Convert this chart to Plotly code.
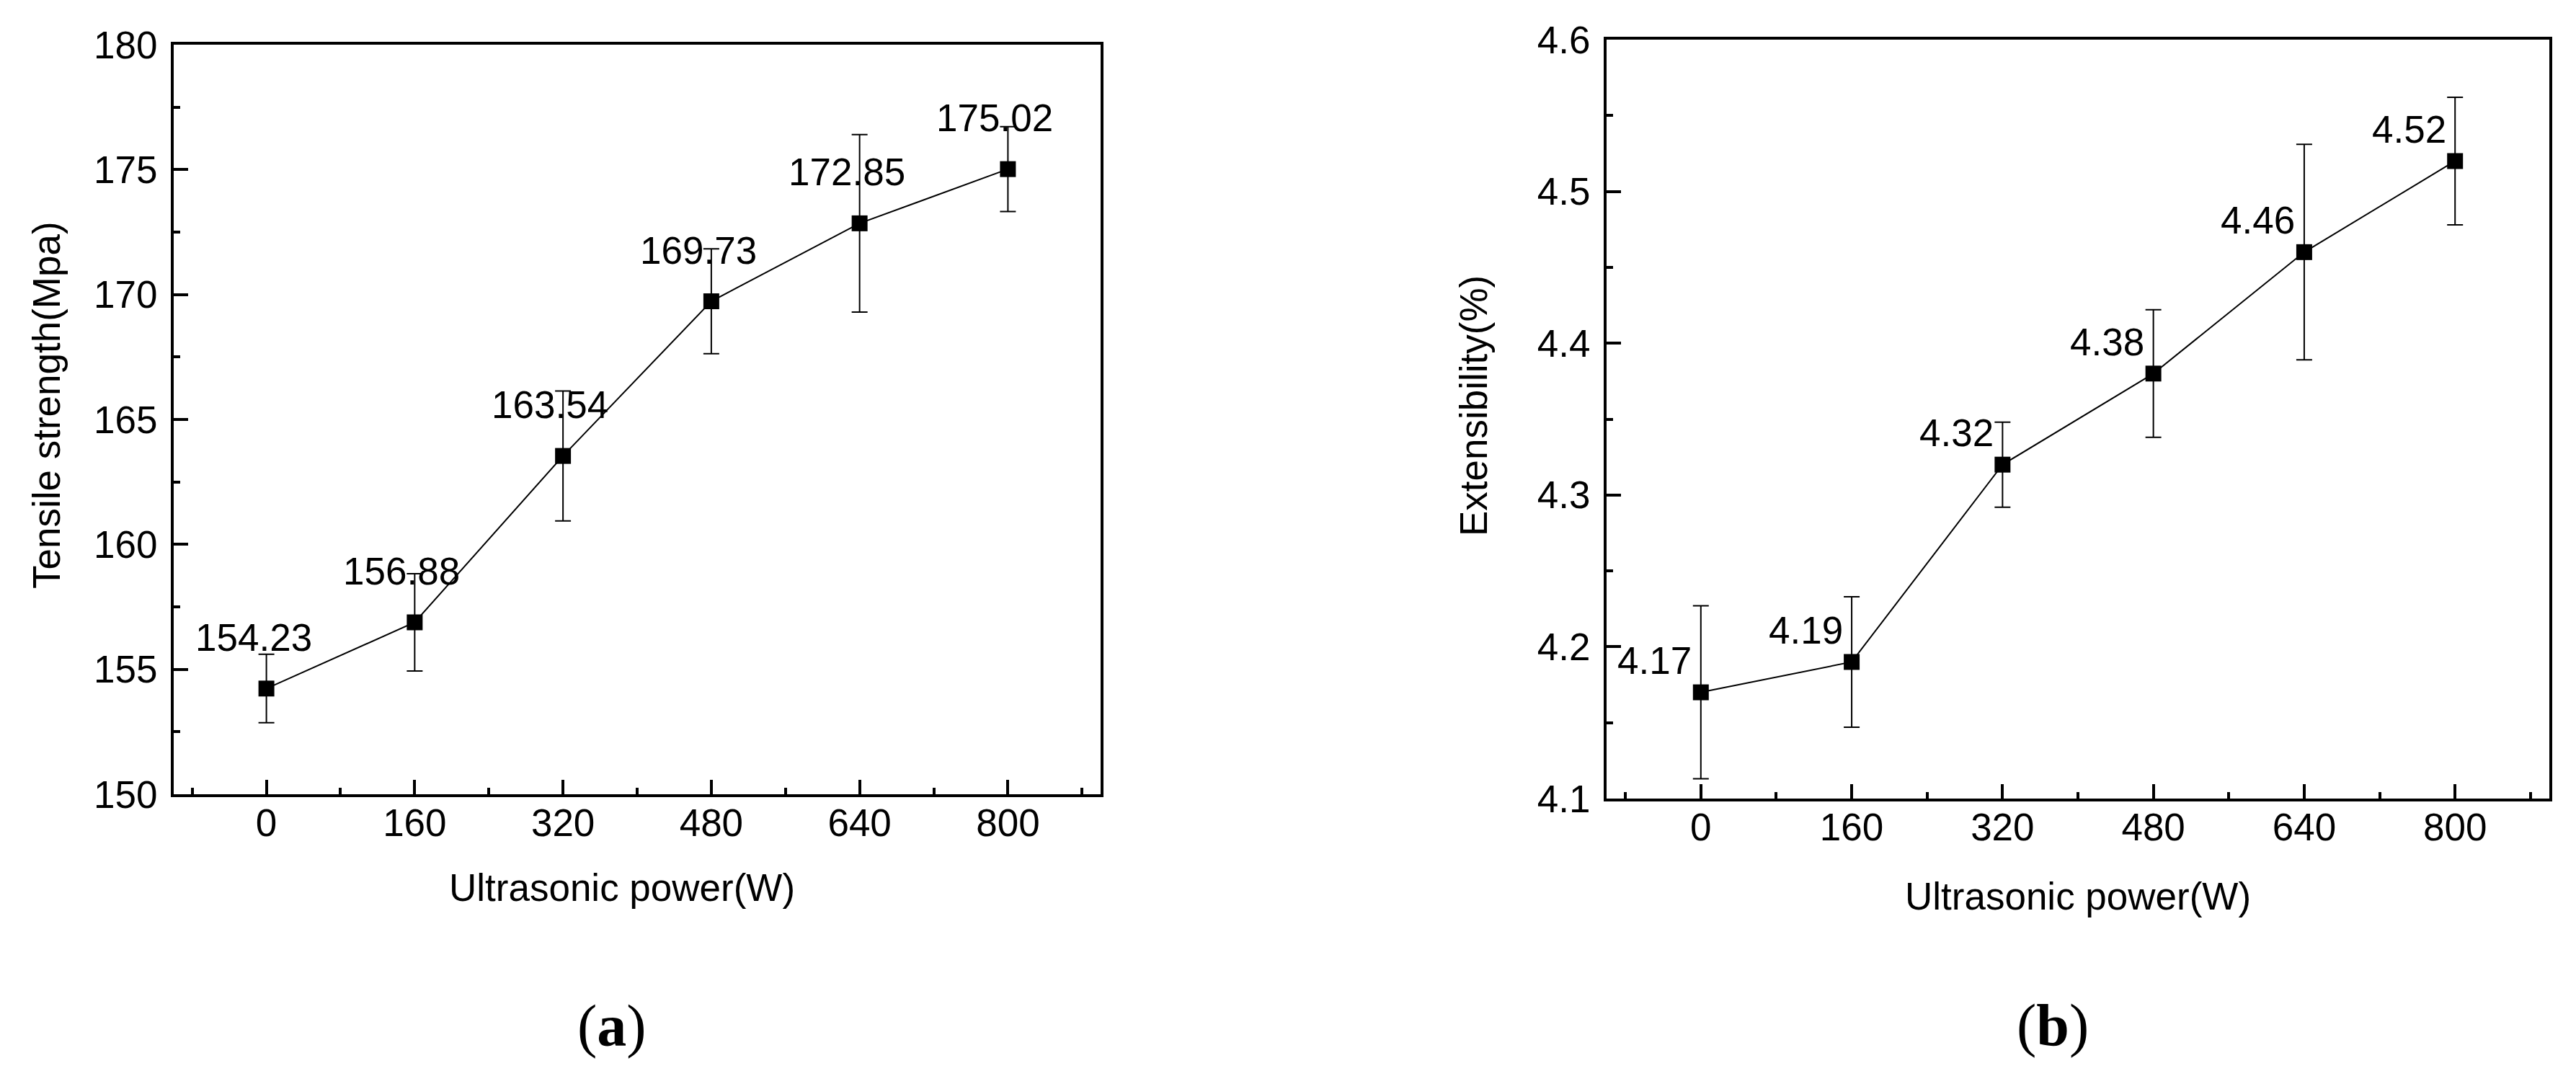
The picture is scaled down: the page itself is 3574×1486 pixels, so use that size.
import plotly.graph_objects as go

# ---- data ----
power = [0, 160, 320, 480, 640, 800]
tensile = [154.23, 156.88, 163.54, 169.73, 172.85, 175.02]
tensile_err = [1.37, 1.95, 2.6, 2.1, 3.55, 1.7]
extens = [4.17, 4.19, 4.32, 4.38, 4.46, 4.52]
extens_err = [0.057, 0.043, 0.028, 0.042, 0.071, 0.042]
tensile_labels = ["154.23", "156.88", "163.54", "169.73", "172.85", "175.02"]
extens_labels = ["4.17", "4.19", "4.32", "4.38", "4.46", "4.52"]

W, H = 3574, 1486
OFF = 8  # default page body margin
FONT = "Liberation Sans, Arial, sans-serif"
FS = 53


def px(x):
    return (x - OFF) / W


def py(y):
    return 1 - (y - OFF) / H


fig = go.Figure()

fig.add_trace(go.Scatter(
    x=power, y=tensile, mode="lines+markers",
    line=dict(color="black", width=2),
    marker=dict(symbol="square", size=22, color="black"),
    error_y=dict(type="data", array=tensile_err, color="black", thickness=2, width=11),
    xaxis="x", yaxis="y", showlegend=False, cliponaxis=False,
))
fig.add_trace(go.Scatter(
    x=power, y=extens, mode="lines+markers",
    line=dict(color="black", width=2),
    marker=dict(symbol="square", size=22, color="black"),
    error_y=dict(type="data", array=extens_err, color="black", thickness=2, width=11),
    xaxis="x2", yaxis="y2", showlegend=False, cliponaxis=False,
))

axis_common = dict(
    showline=True, linecolor="black", linewidth=4, mirror=True,
    showgrid=False, zeroline=False, automargin=False,
    ticks="inside", ticklen=20, tickwidth=4, tickcolor="black",
    tickfont=dict(family=FONT, size=FS, color="black"),
)

fig.update_layout(
    template="none",
    width=W, height=H,
    margin=dict(l=0, r=0, t=0, b=0, pad=0, autoexpand=False),
    paper_bgcolor="white", plot_bgcolor="white",
    xaxis=dict(domain=[px(241), px(1527)], range=[-100, 900], tick0=0, dtick=160,
               ticklabelstandoff=-10,
               minor=dict(ticks="inside", ticklen=9, tickwidth=4, tickcolor="black", tick0=0, dtick=80),
               anchor="y", **axis_common),
    yaxis=dict(domain=[py(1102), py(62)], range=[150, 180], tick0=150, dtick=5,
               ticklabelstandoff=8,
               minor=dict(ticks="inside", ticklen=9, tickwidth=4, tickcolor="black", tick0=150, dtick=2.5),
               anchor="x", **axis_common),
    xaxis2=dict(domain=[px(2229), px(3537)], range=[-100, 900], tick0=0, dtick=160,
                ticklabelstandoff=-10,
                minor=dict(ticks="inside", ticklen=9, tickwidth=4, tickcolor="black", tick0=0, dtick=80),
                anchor="y2", **axis_common),
    yaxis2=dict(domain=[py(1108), py(55)], range=[4.1, 4.6], tick0=4.1, dtick=0.1, tickformat=".1f",
                ticklabelstandoff=8,
                minor=dict(ticks="inside", ticklen=9, tickwidth=4, tickcolor="black", tick0=4.1, dtick=0.05),
                anchor="x2", **axis_common),
)

annots = []
# data labels
for xv, yv, t in zip(power, tensile, tensile_labels):
    annots.append(dict(x=xv, y=yv, xref="x", yref="y", text=t, showarrow=False,
                       xshift=-18, yshift=71, font=dict(family=FONT, size=FS, color="black")))
for xv, yv, t in zip(power, extens, extens_labels):
    annots.append(dict(x=xv, y=yv, xref="x2", yref="y2", text=t, showarrow=False,
                       xshift=-64, yshift=44, font=dict(family=FONT, size=FS, color="black")))

# axis titles
tfont = dict(family=FONT, size=FS, color="black")
annots += [
    dict(x=px(863), y=py(1231), xref="paper", yref="paper", text="Ultrasonic power(W)",
         showarrow=False, font=tfont, xanchor="center", yanchor="middle"),
    dict(x=px(2883), y=py(1243), xref="paper", yref="paper", text="Ultrasonic power(W)",
         showarrow=False, font=tfont, xanchor="center", yanchor="middle"),
    dict(x=px(65), y=py(562), xref="paper", yref="paper", text="Tensile strength(Mpa)",
         showarrow=False, font=tfont, textangle=-90, xanchor="center", yanchor="middle"),
    dict(x=px(2044), y=py(563), xref="paper", yref="paper", text="Extensibility(%)",
         showarrow=False, font=tfont, textangle=-90, xanchor="center", yanchor="middle"),
    dict(x=px(849), y=py(1423), xref="paper", yref="paper", text="(<b>a</b>)",
         showarrow=False, font=dict(family="Liberation Serif, Times New Roman, serif", size=82, color="black"),
         xanchor="center", yanchor="middle"),
    dict(x=px(2848), y=py(1422), xref="paper", yref="paper", text="(<b>b</b>)",
         showarrow=False, font=dict(family="Liberation Serif, Times New Roman, serif", size=82, color="black"),
         xanchor="center", yanchor="middle"),
]
fig.update_layout(annotations=annots)

fig.write_html("out.html")
